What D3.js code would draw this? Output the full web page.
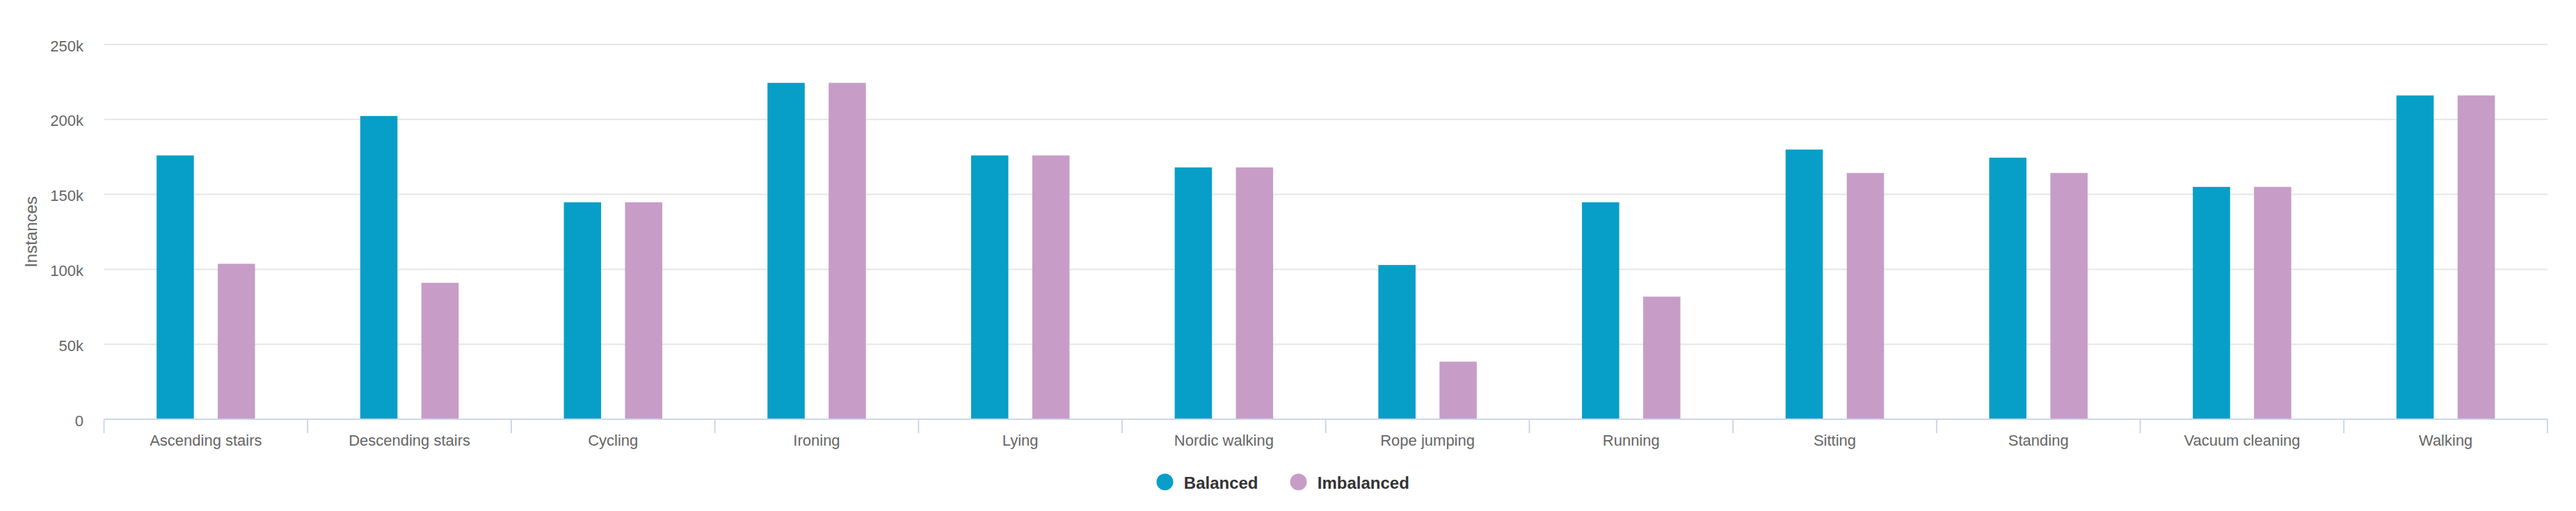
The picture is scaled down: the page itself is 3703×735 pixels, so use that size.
<!DOCTYPE html>
<html><head><meta charset="utf-8">
<script src="https://cdn.jsdelivr.net/npm/d3@7"></script>
<style>body{margin:0;background:#fff}svg{display:block}</style>
</head><body>
<svg id="c" width="3703" height="735"></svg>
<script>
const categories = ["Ascending stairs","Descending stairs","Cycling","Ironing","Lying","Nordic walking","Rope jumping","Running","Sitting","Standing","Vacuum cleaning","Walking"];
const seriesNames = ["Balanced","Imbalanced"];
const balanced   = [176000, 202300, 144700, 224400, 176000, 168000, 102900, 144700, 179900, 174500, 155000, 216000];
const imbalanced = [103700,  91000, 144700, 224400, 176000, 168000,  38400,  81800, 164300, 164300, 155000, 216000];
const yTicks = [0, 50000, 100000, 150000, 200000, 250000];
const yTickLabels = ["0", "50k", "100k", "150k", "200k", "250k"];
const seriesColors = ["#079fc7", "#c79dc8"];
const yTitle = "Instances";

const svg = d3.select("#c");
const font = "'Liberation Sans', Arial, Helvetica, sans-serif";
const L = 149.5, R = 3662, T = 64, B = 603;

const x0 = d3.scaleBand().domain(categories).range([L, R]);
const x1 = d3.scaleBand().domain(seriesNames).range([0, x0.bandwidth()]).paddingInner(0.391).paddingOuter(0.86);
const y = d3.scaleLinear().domain([0, 250000]).range([B, T]);
const color = d3.scaleOrdinal().domain(seriesNames).range(seriesColors);

// gridlines
svg.append("g").selectAll("line").data(yTicks.filter(d => d > 0)).join("line")
  .attr("x1", L).attr("x2", R).attr("y1", d => y(d)).attr("y2", d => y(d))
  .attr("stroke", "#e6e6e6").attr("stroke-width", 2);

// y axis
const ya = svg.append("g").attr("transform", `translate(${L},0)`)
  .call(d3.axisLeft(y).tickValues(yTicks).tickFormat((d, i) => yTickLabels[i]).tickSize(0));
ya.select(".domain").remove();
ya.selectAll("text").attr("x", -29.5).attr("y", 9).attr("dy", null)
  .attr("font-family", font).attr("font-size", 22).attr("fill", "#666666").attr("text-anchor", "end");

// y title
svg.append("text").attr("transform", `translate(53,333.5) rotate(-90)`)
  .attr("text-anchor", "middle").attr("font-family", font).attr("font-size", 24)
  .attr("fill", "#666666").text(yTitle);

// bars
const data = categories.map((c, i) => ({c, vals: [balanced[i], imbalanced[i]]}));
const groups = svg.append("g").selectAll("g").data(data).join("g")
  .attr("transform", d => `translate(${x0(d.c)},0)`);
groups.selectAll("rect").data(d => d.vals.map((v, j) => ({s: seriesNames[j], v}))).join("rect")
  .attr("x", d => x1(d.s)).attr("width", x1.bandwidth())
  .attr("y", d => y(d.v)).attr("height", d => B - y(d.v))
  .attr("fill", d => color(d.s));

// x axis
const xa = svg.append("g").attr("transform", `translate(0,${B})`)
  .call(d3.axisBottom(x0).tickSize(0));
xa.select(".domain").attr("d", `M${L},0H${R}`).attr("stroke", "#ccd6eb").attr("stroke-width", 2);
xa.selectAll("text").attr("y", 38).attr("dy", null)
  .attr("font-family", font).attr("font-size", 22).attr("fill", "#666666");
// boundary ticks
const bounds = categories.map(c => x0(c)).concat([R]);
xa.append("g").selectAll("line").data(bounds).join("line")
  .attr("x1", d => d).attr("x2", d => d).attr("y1", 0).attr("y2", 20)
  .attr("stroke", "#ccd6eb").attr("stroke-width", 2);

// legend
const lg = svg.append("g");
const items = lg.selectAll("g").data(seriesNames).join("g");
items.append("circle").attr("r", 12).attr("cy", 693.3).attr("fill", d => color(d));
items.append("text").attr("y", 702.5).attr("font-family", font).attr("font-size", 24)
  .attr("font-weight", "bold").attr("fill", "#333333").text(d => d);
let cx = 0; const pos = [];
items.each(function(d) {
  const w = d3.select(this).select("text").node().getComputedTextLength();
  pos.push(cx); cx += 39.3 + w + 46;
});
const total = cx - 46;
const start = 1844.2 - total / 2;
items.each(function(d, i) {
  const g = d3.select(this);
  g.select("circle").attr("cx", start + pos[i] + 12);
  g.select("text").attr("x", start + pos[i] + 39.3);
});
</script>
</body></html>
